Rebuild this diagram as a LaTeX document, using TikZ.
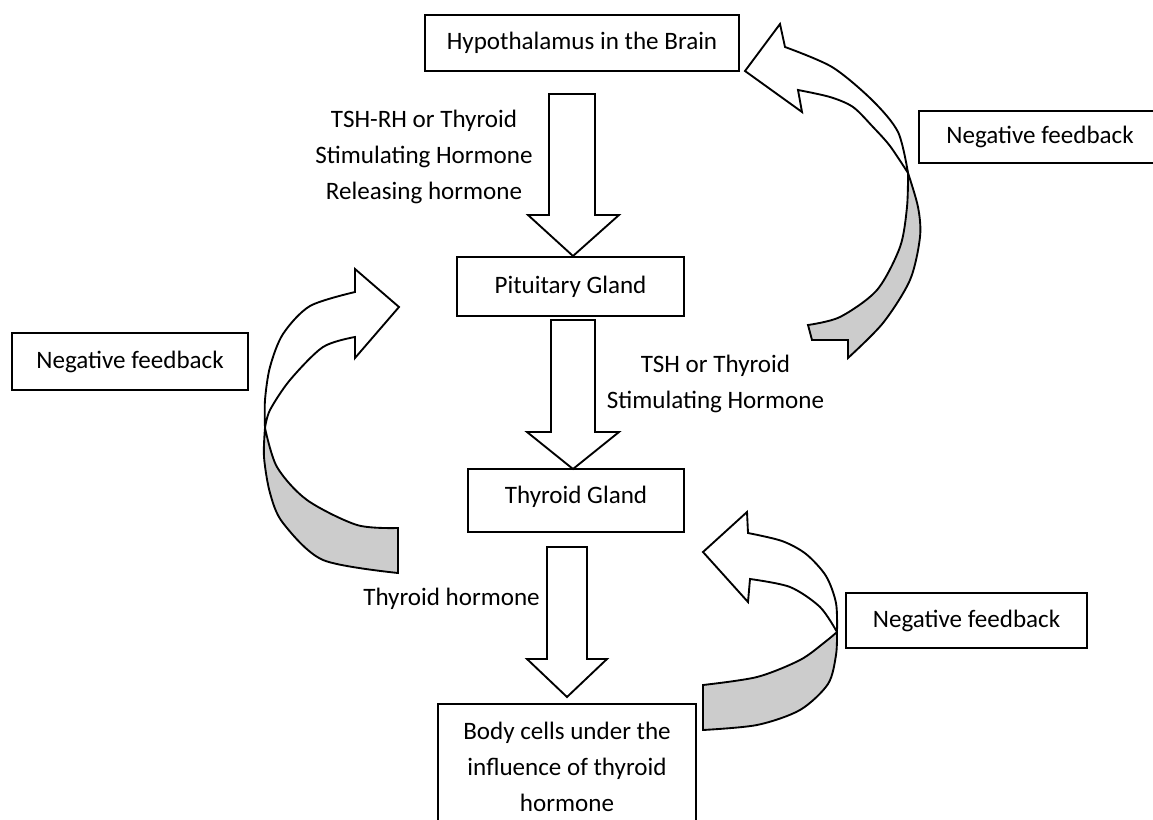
\documentclass[tikz,border=0pt]{standalone}
\usepackage{fontspec}
\setmainfont{Carlito}
\begin{document}
\begin{tikzpicture}[x=0.75pt,y=-0.75pt,
  every node/.style={font=\fontsize{18.8}{27}\selectfont, inner sep=0pt},
  box/.style={draw, line width=1.4pt, fill=white, align=center},
  lbl/.style={align=center},
  blockarrow/.style={draw, line width=1.4pt, fill=white, line join=miter},
  backpart/.style={draw, line width=1.4pt, fill=gray!40, line join=miter},
  frontpart/.style={draw, line width=1.4pt, fill=white, line join=miter}]
\useasboundingbox (0,0) rectangle (1153,820);
\clip (0,0) rectangle (1153,820);

% boxes
\node[box, minimum width=235.5pt, minimum height=42pt] (hyp) at (582,43) {Hypothalamus in the Brain};
\node[box, minimum width=170.25pt, minimum height=44.25pt] (pit) at (570.5,286.5) {Pituitary Gland};
\node[box, minimum width=162pt, minimum height=47.25pt, text depth=9pt] (thy) at (576,500.5) {Thyroid Gland};
\node[box, minimum width=193.5pt, minimum height=94.5pt] (body) at (567,767) {Body cells under the\\influence of thyroid\\hormone};
\node[box, minimum width=181.5pt, minimum height=39pt] (nftr) at (1040,137) {Negative feedback};
\node[box, minimum width=177pt, minimum height=42.75pt] (nfl) at (130,361.5) {Negative feedback};
\node[box, minimum width=180.75pt, minimum height=41.25pt] (nfbr) at (966.5,620.5) {Negative feedback};

% labels
\node[lbl] (lrh) at (424,157) {TSH-RH or Thyroid\\Stimulating Hormone\\Releasing hormone};
\node[lbl] (ltsh) at (715.5,383.5) {TSH or Thyroid\\Stimulating Hormone};
\node[lbl] (lth) at (451.5,599) {Thyroid hormone};

% straight block arrows
\path[blockarrow] (549,94) -- (595,94) -- (595,215) -- (619,215) -- (573,256) -- (528,215) -- (549,215) -- cycle;
\path[blockarrow] (551,320) -- (595,320) -- (595,432) -- (619,432) -- (573,469) -- (527,432) -- (551,432) -- cycle;
\path[blockarrow] (547,547) -- (587,547) -- (587,659) -- (607,659) -- (567,697) -- (527,659) -- (547,659) -- cycle;

% top-right curved arrow (to hypothalamus)
\path[backpart] plot[smooth] coordinates {(908,173) (918,207) (920,237) (910,280) (883,323) (848,358)}
  -- (848,340) -- (812,340) -- (808,325)
  -- plot[smooth] coordinates {(808,325) (840,317) (877,290) (900,247) (907,207) (908,173)} -- cycle;
\path[frontpart] (785,47) -- (780,24) -- (745,71) -- (802,112) -- (798,90)
  -- plot[smooth] coordinates {(798,90) (830,97) (853,107) (873,127) (890,146) (908,173)}
  -- plot[smooth] coordinates {(908,173) (898,132) (872,100) (832,67) (785,47)} -- cycle;

% left curved arrow (to pituitary)
\path[backpart] plot[smooth] coordinates {(265,428) (264,457) (270,493) (283,523) (323,560) (398,573)}
  -- (398,528)
  -- plot[smooth] coordinates {(398,528) (357,525) (307,500) (277,467) (265,428)} -- cycle;
\path[frontpart] (355,292) -- (355,269) -- (399,307) -- (355,358) -- (355,337)
  -- plot[smooth] coordinates {(355,337) (323,347) (290,380) (270,410) (265,428)}
  -- plot[smooth] coordinates {(265,428) (265,400) (270,367) (283,334) (310,306) (355,292)} -- cycle;

% bottom-right curved arrow (to thyroid gland)
\path[backpart] plot[smooth] coordinates {(837,632) (836,655) (828,684) (800,710) (757,725) (703,730)}
  -- (703,685)
  -- plot[smooth] coordinates {(703,685) (757,677) (800,660) (825,642) (837,632)} -- cycle;
\path[frontpart] (748,533) -- (747,512) -- (703,552) -- (748,602) -- (750,579)
  -- plot[smooth] coordinates {(750,579) (790,587) (820,607) (837,632)}
  -- plot[smooth] coordinates {(837,632) (836,603) (826,576) (806,554) (782,541) (748,533)} -- cycle;
\end{tikzpicture}
\end{document}
